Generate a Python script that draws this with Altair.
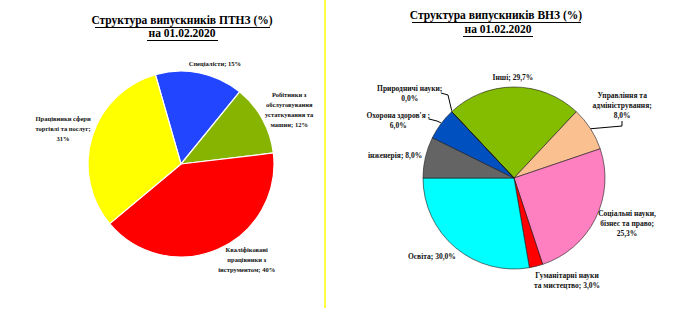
import math
import altair as alt
import pandas as pd

# ---------------- data ----------------
ptnz_cats = ["Спеціалісти", "Робітники з обслуговування устаткування та машин",
             "Кваліфіковані працівники з інструментом", "Працівники сфери торгівлі та послуг"]
ptnz_values = [15, 12, 40, 31]
ptnz_labels = ["Спеціалісти; 15%",
               "Робітники з\nобслуговування\nустаткування та\nмашин; 12%",
               "Кваліфіковані\nпрацівники з\nінструментом; 40%",
               "Працівники сфери\nторгівлі та послуг;\n31%"]
ptnz_colors = ["#2246FF", "#86B400", "#FF0000", "#FFFF00"]

vnz_cats = ["Інші", "Управління та адміністрування", "Соціальні науки, бізнес та право",
            "Гуманітарні науки та мистецтво", "Освіта", "Інженерія", "Охорона здоров'я",
            "Природничі науки"]
vnz_values = [29.7, 8.0, 25.3, 3.0, 30.0, 8.0, 6.0, 0.0]          # labelled values
vnz_slice = [24.0, 7.8, 25.1, 2.4, 27.7, 7.3, 5.7, 0.0]            # slice sizes as drawn
vnz_labels = ["Інші; 29,7%",
              "Управління та\nадміністрування;\n8,0%",
              "Соціальні науки,\nбізнес та право;\n25,3%",
              "Гуманітарні науки\nта мистецтво; 3,0%",
              "Освіта; 30,0%",
              "інженерія; 8,0%",
              "Охорона здоров'я ;\n6,0%",
              "Природничі науки;\n0,0%"]
vnz_colors = ["#84BC00", "#FAC090", "#FF80C0", "#FF0000", "#00FFFF", "#646464", "#0050C0", "#4F81BD"]

# ---------------- layout ----------------
W, H = 679, 319
L_CX, L_CY, L_R, L_START = 181, 164, 93, -16.0
R_CX, R_CY, R_R, R_START = 514, 178, 91, -43.2
LH = 10
ptnz_lab_ang = [18.6, 63.4, 145.5, 286.5]
ptnz_lab_rad = [106, 121, 116, 123]
vnz_lab_ang = [-0.6, 56.3, 112.1, 152.8, 226.1, 280.5, 296.2, 308.9]
vnz_lab_rad = [100, 130, 122, 116, 114, 121, 129, 134]

FONT = "Liberation Serif"


def anchor_polar(angles, radii, labels, cx, cy):
    """Label block centre given in polar form; return polar anchor of its first line."""
    th, rr = [], []
    for a, r, lab in zip(angles, radii, labels):
        n = lab.count("\n") + 1
        x = r * math.sin(math.radians(a))
        y = -r * math.cos(math.radians(a)) - (n - 1) * LH / 2
        th.append(math.atan2(x, -y))
        rr.append(math.hypot(x, y))
    return th, rr


lth, lrr = anchor_polar(ptnz_lab_ang, ptnz_lab_rad, ptnz_labels, L_CX, L_CY)
rth, rrr = anchor_polar(vnz_lab_ang, vnz_lab_rad, vnz_labels, R_CX, R_CY)

left_df = pd.DataFrame({"cat": ptnz_cats, "value": ptnz_values, "idx": range(4),
                        "label": ptnz_labels, "la": lth, "lr": lrr})
right_df = pd.DataFrame({"cat": vnz_cats, "value": vnz_values, "slice": vnz_slice,
                         "idx": range(8), "label": vnz_labels, "la": rth, "lr": rrr})


def theta_range(start_deg):
    s = math.radians(start_deg)
    return [s, s + 2 * math.pi]


left_arc = alt.Chart(left_df).mark_arc(radius=L_R, stroke="white", strokeWidth=1.2).encode(
    theta=alt.Theta("value:Q", stack=True, scale=alt.Scale(range=theta_range(L_START))),
    order=alt.Order("idx:Q"),
    color=alt.Color("cat:N", scale=alt.Scale(domain=ptnz_cats, range=ptnz_colors), legend=None),
    x=alt.value(L_CX), y=alt.value(L_CY),
)
left_text = alt.Chart(left_df).mark_text(
    font=FONT, fontWeight="bold", fontSize=6.5, lineHeight=LH, lineBreak="\n",
    align="center", baseline="middle", color="#111111"
).encode(
    theta=alt.Theta("la:Q", scale=None, stack=False),
    radius=alt.Radius("lr:Q", scale=None),
    text=alt.Text("label:N"),
    x=alt.value(L_CX), y=alt.value(L_CY),
)

right_arc = alt.Chart(right_df).mark_arc(radius=R_R, stroke="#1a1a1a", strokeWidth=0.6).encode(
    theta=alt.Theta("slice:Q", stack=True, scale=alt.Scale(range=theta_range(R_START))),
    order=alt.Order("idx:Q"),
    color=alt.Color("cat:N", scale=alt.Scale(domain=vnz_cats, range=vnz_colors), legend=None),
    x=alt.value(R_CX), y=alt.value(R_CY),
)
right_text = alt.Chart(right_df).mark_text(
    font=FONT, fontWeight="bold", fontSize=7.5, lineHeight=LH, lineBreak="\n",
    align="center", baseline="middle", color="#111111"
).encode(
    theta=alt.Theta("la:Q", scale=None, stack=False),
    radius=alt.Radius("lr:Q", scale=None),
    text=alt.Text("label:N"),
    x=alt.value(R_CX), y=alt.value(R_CY),
)

# leader lines: from slice boundary on the pie edge to the label
cum = [0.0]
for v in vnz_slice:
    cum.append(cum[-1] + v)
tot = sum(vnz_slice)


def edge(frac_pos):
    a = math.radians(R_START + 360 * frac_pos / tot)
    return R_CX + R_R * math.sin(a), R_CY - R_R * math.cos(a)


lead_rows = []
ex, ey = edge(cum[7])
lead_rows += [{"g": "a", "o": 0, "x": 441, "y": 93}, {"g": "a", "o": 1, "x": 448, "y": 95},
              {"g": "a", "o": 2, "x": ex, "y": ey - 1}]
ex, ey = edge((cum[6] + cum[7]) / 2)
lead_rows += [{"g": "b", "o": 0, "x": 429, "y": 119}, {"g": "b", "o": 1, "x": 437, "y": 121},
              {"g": "b", "o": 2, "x": ex, "y": ey - 1}]
ex, ey = edge((cum[1] + cum[2]) / 2)
lead_rows += [{"g": "c", "o": 0, "x": ex, "y": ey}, {"g": "c", "o": 1, "x": 622, "y": 126},
              {"g": "c", "o": 2, "x": 622, "y": 121}]
leaders = alt.Chart(pd.DataFrame(lead_rows)).mark_line(color="black", strokeWidth=1).encode(
    x=alt.X("x:Q", scale=None), y=alt.Y("y:Q", scale=None),
    detail="g:N", order="o:Q",
)

# titles
titles_df = pd.DataFrame({
    "t": ["Структура випускників ПТНЗ (%)", " на 01.02.2020",
          "Структура випускників ВНЗ (%)", " на 01.02.2020"],
    "x": [182, 182, 496, 498], "y": [21, 34, 16, 30],
})
titles = alt.Chart(titles_df).mark_text(
    font=FONT, fontWeight="bold", fontSize=11.5, align="center", baseline="middle", color="black"
).encode(x=alt.X("x:Q", scale=None), y=alt.Y("y:Q", scale=None), text="t:N")

ul_df = pd.DataFrame({"x1": [95, 147, 412, 463], "x2": [270, 218, 581, 533],
                      "y": [27.5, 40.5, 22.5, 36.5]})
underlines = alt.Chart(ul_df).mark_rule(color="black", strokeWidth=1).encode(
    x=alt.X("x1:Q", scale=None), x2="x2:Q", y=alt.Y("y:Q", scale=None))

separator = alt.Chart(pd.DataFrame({"a": [0]})).mark_rule(color="#FFFF44", strokeWidth=2).encode(
    x=alt.value(325), y=alt.value(0), y2=alt.value(308))

chart = alt.layer(
    separator, left_arc, right_arc, left_text, right_text, leaders, titles, underlines
).resolve_scale(
    theta="independent", color="independent", radius="independent",
    x="independent", y="independent"
).properties(
    width=W, height=H, padding=0, autosize="none", background="white"
).configure_view(stroke=None)

chart.save("out.html", embed_options={"renderer": "svg", "actions": False})
